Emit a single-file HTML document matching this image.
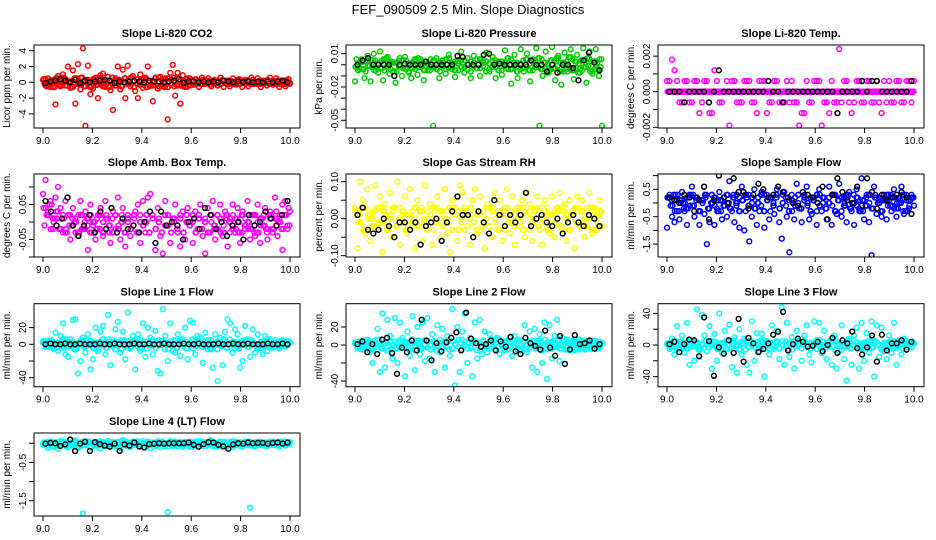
<!DOCTYPE html>
<html><head><meta charset="utf-8">
<style>
html,body{margin:0;padding:0;background:#fff;}
svg{display:block;font-family:"Liberation Sans",Arial,sans-serif;}
</style></head>
<body>
<svg id="chart" width="936" height="540" viewBox="0 0 936 540" xmlns="http://www.w3.org/2000/svg">
<rect width="936" height="540" fill="#fff"/>
<text x="468" y="14" font-size="13" text-anchor="middle">FEF_090509  2.5 Min. Slope Diagnostics</text>
</svg>
<script>
// ---- data (y values at evenly spaced x between 9.0 and 10.0) ----
const xTicks = [9.0, 9.2, 9.4, 9.6, 9.8, 10.0];
const xTickLabels = ["9.0", "9.2", "9.4", "9.6", "9.8", "10.0"];

const co2Vals = [0.3,-0.4,0.5,-0.6,0.2,-2.8,0.8,-0.5,1.0,0.4,2.0,-0.7,1.5,-2.7,2.3,-0.9,4.3,-5.5,2.1,-1.5,-0.8,0.6,-2.0,0.9,1.1,-0.6,0.7,-1.0,-3.5,0.5,2.0,-0.9,1.6,-2.0,2.1,-0.5,0.8,-1.1,-2.0,1.0,-0.7,0.6,2.0,-0.4,-2.4,0.5,-0.8,0.7,-0.5,0.4,-4.7,1.2,2.2,-1.7,1.2,-2.7,0.9,-0.6,0.5,-0.4,0.3,-0.3,0.2,-0.2,0.3,-0.2,0.2,-0.3,0.2,-0.2,0.2,-0.2,0.3,-0.1,0.2,-0.2,0.1,-0.2,0.3,-0.2,0.2,-0.1,0.2,-0.2,0.3,-0.2,0.1,-0.2,0.2,-0.1,0.3,-0.2,0.2,-0.1,0.2,-0.2,0.1,-0.2,0.2,-0.1];
const co2Band = [0.4,-0.5,0.2,-0.6,0.5,-0.3,0.6,-0.4,0.1,-0.6,0.5,-0.2,0.6,-0.5,0.3,-0.6,0.4,-0.3,0.5,-0.5,0.2,-0.6,0.6,-0.4,0.3,-0.5,0.5,-0.2,0.6,-0.6,0.4,-0.3,0.5,-0.6,0.2,-0.4,0.6,-0.5,0.3,-0.6,0.5,-0.3,0.6,-0.4,0.2,-0.5,0.4,-0.3,0.2,-0.2,0.1,-0.2,0.2,-0.1,0.2,-0.2,0.1,-0.2,0.2,-0.1,0.2,-0.2,0.1,-0.2,0.2,-0.1,0.2,-0.2,0.1,-0.2,0.2,-0.1,0.2,-0.2,0.1,-0.2,0.2,-0.1,0.2,-0.2];
const co2Black = [-0.1,0.1,0.2,0.4,0.2,0.0,0.3,-0.1,0.2,0.0,0.1,0.2,0.3,0.2,-0.1,0.1,0.0,0.1,0.2,0.1,0.0,0.2,0.1,0.1,0.0,0.1,0.2,0.4,-0.1,0.1,0.1,0.0,0.1,0.0,0.1,0.0,0.2,0.1,0.0,0.1,0.0,0.1,0.0,0.1,0.0,0.1,0.0,0.1,0.2,0.0];

const presVals = [-0.015,-0.005,0.005,-0.012,0.008,-0.015,0.010,-0.003,0.012,-0.014,0.006,-0.008,0.002,-0.016,0.004,-0.010,0.007,-0.006,-0.012,0.003,-0.009,0.005,-0.014,0.001,-0.005,-0.055,0.006,-0.012,0.004,-0.008,0.009,-0.004,-0.011,0.003,0.012,-0.007,0.006,-0.012,0.008,-0.003,-0.010,0.004,0.011,-0.006,0.007,-0.012,0.003,-0.009,0.013,-0.004,-0.017,0.009,-0.012,0.014,-0.006,0.010,-0.015,0.005,0.015,-0.055,-0.010,0.012,-0.005,0.016,-0.014,0.008,-0.018,0.011,-0.006,0.014,-0.013,0.009,-0.004,0.015,-0.016,0.012,-0.008,0.014,-0.010,-0.055];
const presBand = [-0.002,0.002,-0.004,0.003,-0.001,0.004,-0.005,0.001,-0.003,0.005,-0.002,0.003,-0.006,0.002,-0.001,0.004,-0.004,0.001,-0.003,0.005,-0.002,0.003,-0.005,0.001,-0.002,0.004,-0.004,0.002,-0.001,0.005,-0.003,0.002,-0.005,0.001,-0.002,0.004,-0.004,0.003,-0.001,0.005,-0.003,0.002,-0.006,0.001,-0.002,0.004,-0.005,0.003,-0.001,0.006,-0.004,0.002,-0.006,0.001,-0.003,0.005,-0.005,0.003,-0.002,0.006,-0.004,0.002,-0.007,0.004,-0.003,0.006,-0.006,0.002,-0.004,0.007,-0.005,0.003,-0.007,0.004,-0.002,0.006,-0.006,0.003,-0.004,0.005];
const presBlack = [0.000,0.004,0.006,0.000,0.000,0.000,0.000,-0.010,0.000,0.001,0.000,0.000,0.000,0.003,0.000,0.000,0.000,0.000,0.000,0.008,0.007,0.000,0.000,0.000,0.009,0.010,0.000,0.001,0.000,0.000,0.000,0.000,0.000,0.004,0.000,0.000,-0.006,0.000,-0.007,0.000,0.000,-0.003,-0.014,0.004,0.011,0.002,-0.005];

const tempVals = [.0006,.0006,.0018,.0012,.0006,-.0006,-.0006,.0006,.0006,-.0006,-.0006,.0006,.0006,-.0012,-.0006,.0006,.0006,-.0012,-.0012,.0012,.0006,-.0006,-.0006,0,.0006,-.0019,.0006,.0006,-.0006,-.0006,-.0006,.0006,.0006,.0006,-.0006,-.0006,-.0012,.0006,.0006,.0006,-.0012,-.0006,-.0006,.0006,.0006,-.0006,-.0006,-.0006,.0006,-.0006,.0006,-.0006,-.0006,-.0019,-.0012,-.0012,.0006,-.0006,-.0006,.0006,.0006,.0006,-.0019,-.0006,-.0006,-.0012,.0006,-.0006,-.0006,.0024,-.0006,.0006,.0006,-.0006,-.0012,-.0006,.0006,.0006,-.0006,-.0006,.0006,.0006,-.0006,-.0006,.0006,-.0006,-.0012,.0006,-.0006,.0006,-.0006,-.0006,.0006,.0006,-.0006,-.0006,.0006,.0006,-.0006,.0006];
const tempBand = [0,0,0,0,0,0,0,0,0,0,0,0,0,0,0,0,0,0,0,0,0,0,0,0,0,0,0,0,0,0,0,0,0,0,0,0,0,0,0,0,0,0,0,0,0,0,0,0,0,0,0,0,0,0,0,0,0,0,0,0,0,0,0,0,0,0,0,0,0,0,0,0,0,0,0,0,0,0,0,0];
const tempBlack = [0,0,0,-.0006,0,0,0,0,-.0006,0,.0012,0,0,0,0,0,0,0,0,0,.0006,0,0,-.0006,0,0,0,0,0,0,0,0,0,0,-.0012,0,0,0,0,.0006,0,.0006,.0006,0,0,0,0,0,0,.0006];

const ambVals = [0.08,0.12,0.03,0.06,-0.02,0.07,0.10,0.04,-0.03,0.06,0.02,-0.05,0.04,0.01,-0.04,0.06,-0.02,0.03,-0.08,0.05,-0.01,-0.05,0.02,0.04,-0.04,0.06,0.01,-0.06,0.03,-0.02,0.07,-0.05,0.04,-0.07,0.02,-0.04,-0.12,0.03,0.05,-0.06,0.06,-0.03,0.07,0.08,-0.11,-0.08,0.04,-0.04,-0.09,0.06,0.02,-0.06,0.01,0.05,-0.03,-0.07,0.03,-0.05,0.04,0.00,-0.06,0.03,-0.02,0.05,-0.04,-0.09,0.04,-0.03,0.06,-0.05,0.02,0.05,-0.04,0.03,-0.07,0.01,0.05,-0.03,0.04,-0.06,0.03,-0.02,0.06,-0.05,0.02,-0.04,0.05,-0.06,0.01,0.04,-0.05,0.03,-0.03,0.07,-0.04,0.02,-0.08,0.06,-0.02,0.03];
const ambBand = [0.04,0.02,0.05,0.01,0.03,-0.02,0.01,-0.03,0.02,-0.01,0.00,-0.03,0.02,-0.02,0.01,-0.03,0.00,-0.02,0.02,-0.03,0.01,-0.01,-0.03,0.02,-0.02,0.00,-0.03,0.01,-0.02,0.02,-0.03,0.00,-0.01,0.02,-0.03,0.01,-0.02,0.00,-0.03,0.02,-0.01,-0.03,0.01,-0.02,0.02,-0.03,0.00,-0.01,0.02,-0.03,0.01,-0.02,0.00,-0.03,0.02,-0.01,-0.02,0.01,-0.03,0.02,0.00,-0.02,0.01,-0.03,0.02,-0.01,0.00,-0.02,0.02,-0.03,0.01,-0.01,-0.02,0.02,-0.02,0.01,0.00,-0.02,0.02,-0.01];
const ambBlack = [0.06,0.03,-0.01,0.01,0.07,-0.01,-0.04,-0.01,0.02,-0.03,0.03,-0.02,0.04,-0.03,0.01,-0.02,-0.01,-0.03,0.00,0.03,-0.06,0.03,-0.01,0.00,-0.01,-0.05,0.00,0.01,-0.02,0.04,0.02,-0.02,0.00,-0.04,-0.01,0.00,-0.05,0.02,-0.01,0.00,0.03,0.01,-0.01,0.02,0.06];

const rhVals = [0.03,-0.08,0.10,0.05,-0.04,0.08,-0.06,0.02,0.09,-0.03,0.06,-0.09,0.04,-0.02,0.07,-0.05,0.03,0.10,-0.07,0.01,0.06,-0.04,0.08,-0.02,-0.08,0.05,0.02,-0.06,0.09,-0.03,0.04,-0.07,0.13,0.06,-0.05,0.02,0.08,-0.04,-0.09,0.05,0.03,-0.06,0.09,0.07,-0.03,0.01,-0.07,0.05,0.08,-0.04,0.06,-0.02,-0.08,0.04,0.03,-0.05,0.07,-0.03,0.05,-0.06,0.02,0.08,-0.04,0.06,-0.07,0.03,-0.02,0.05,-0.05,0.07,0.04,-0.06,0.02,0.06,-0.03,-0.07,0.05,0.03,-0.04,0.06,-0.05,0.02,0.07,-0.03,0.04,-0.06,0.05,0.02,-0.08,0.06,-0.02,0.05,-0.05,0.03,0.07,-0.04,0.02,-0.03,0.05,-0.02];
const rhBand = [0.02,-0.01,0.03,-0.03,0.01,0.00,-0.02,0.03,-0.01,0.02,-0.03,0.01,0.03,-0.02,0.00,0.02,-0.03,0.01,-0.01,0.03,-0.02,0.02,0.00,-0.03,0.01,0.03,-0.01,0.02,-0.02,0.00,0.03,-0.03,0.01,0.02,-0.01,0.03,-0.02,0.00,0.02,-0.03,0.01,-0.01,0.03,-0.02,0.02,0.00,-0.03,0.01,0.03,-0.01,0.02,-0.02,0.00,0.03,-0.03,0.01,0.02,-0.01,0.03,-0.02,0.00,0.02,-0.03,0.01,-0.01,0.03,-0.02,0.02,0.00,-0.03,0.01,0.03,-0.01,0.02,-0.02,0.00,0.03,-0.03,0.01,0.02];
const rhBlack = [0.01,0.03,-0.03,-0.04,-0.03,0.00,-0.02,-0.05,-0.01,-0.01,-0.03,-0.01,-0.07,-0.02,-0.01,0.00,-0.06,-0.01,0.02,0.06,0.01,0.01,-0.05,0.02,-0.01,-0.04,0.05,0.01,-0.02,0.01,-0.01,0.01,0.07,-0.02,0.00,0.01,-0.01,-0.02,0.00,-0.04,-0.01,0.01,-0.01,-0.02,0.01,0.00,-0.02];

const sampVals = [-0.9,0.3,-0.5,-0.7,0.1,-0.6,0.4,-0.3,-0.8,0.2,0.6,-0.5,0.2,-0.8,0.1,-0.4,-1.5,-0.7,0.3,-0.8,-0.2,0.4,-0.6,0.2,-0.5,0.8,-0.3,-0.7,0.3,-0.9,0.6,-1.0,0.2,-1.4,-0.5,0.5,-0.8,-0.3,0.4,-0.9,0.3,-0.6,0.2,-0.4,0.5,-0.7,-1.3,0.4,-0.5,-1.8,0.3,-0.6,0.7,-0.2,-0.7,0.1,0.6,-0.6,-0.4,0.2,-0.8,0.5,-0.3,0.2,-0.6,0.6,-0.8,0.3,-0.4,0.7,-0.5,0.2,-0.7,0.4,-0.3,-0.8,0.5,-0.2,0.9,-0.6,0.3,-0.7,-1.9,0.6,-0.4,0.2,-0.5,0.3,-0.6,0.1,-0.3,0.5,-0.5,0.2,0.6,-0.4,0.1,-0.2,0.3,-0.1];
const sampBand = [0.2,-0.1,0.3,-0.3,0.1,0.0,-0.2,0.3,-0.1,0.2,-0.3,0.1,0.3,-0.2,0.0,0.2,-0.3,0.1,-0.1,0.3,-0.2,0.2,0.0,-0.3,0.1,0.3,-0.1,0.2,-0.2,0.0,0.3,-0.3,0.1,0.2,-0.1,0.3,-0.2,0.0,0.2,-0.3,0.1,-0.1,0.3,-0.2,0.2,0.0,-0.3,0.1,0.3,-0.1,0.2,-0.2,0.0,0.3,-0.3,0.1,0.2,-0.1,0.3,-0.2,0.0,0.2,-0.3,0.1,-0.1,0.3,-0.2,0.2,0.0,-0.3,0.1,0.3,-0.1,0.2,-0.2,0.0,0.3,-0.3,0.1,0.2];
const sampBlack = [0.2,0.1,0.0,0.3,0.2,-0.3,0.1,0.6,-0.6,0.1,1.0,0.2,0.0,0.9,0.4,0.4,-0.2,0.3,0.7,0.5,0.2,0.3,0.6,0.4,0.2,0.0,-0.1,0.4,0.3,0.2,0.0,0.6,-0.6,0.3,0.9,0.4,0.1,0.0,0.6,-0.1,0.9,0.4,-0.2,0.3,0.1,0.2,0.3,0.4,0.2,-0.4];

const l1Vals = [2,-3,4,1,-5,14,-8,10,25,-12,-15,6,29,30,-35,-20,8,-10,12,-30,-18,20,-8,15,22,-12,35,-25,5,18,27,-10,15,-18,38,-5,10,-30,12,-8,25,-15,20,8,-12,16,-32,-35,42,10,-20,25,-8,-10,12,-14,6,20,-18,28,26,-12,10,8,-22,14,-6,-5,-28,12,-44,8,-25,15,30,25,-10,18,12,-28,-20,22,6,-15,18,-10,12,-5,-12,10,-8,6,-4,5,-3,4,-2,3,-1,2];
const l1Band = [4,-3,5,-5,2,0,-4,6,-2,3,-6,1,5,-3,0,4,-5,2,-1,6,-4,3,0,-6,2,5,-2,4,-3,0,6,-5,1,3,-2,5,-4,0,4,-6,2,-1,5,-4,3,0,-5,2,6,-2,4,-3,0,5,-6,1,3,-2,6,-4,0,3,-5,2,-1,5,-3,4,0,-4,2,3,-2,4,-3,1,2,-2,1,2];
const l1Black = [0,1,0,0,1,0,0,1,0,0,0,1,0,0,1,0,0,0,1,0,0,1,0,0,1,0,0,0,1,0,0,1,0,0,0,1,0,0,1,0,0,1,0,0,0,1,0,0,1,0];

const l2Vals = [2,-3,4,-5,3,6,-8,-20,5,18,-30,35,-25,28,10,-15,30,-20,25,8,-35,15,-12,32,-28,20,-10,25,-18,30,-15,12,-30,22,-8,18,-25,10,-12,40,-45,20,-30,15,35,-20,8,-35,25,-15,28,-10,15,-8,12,6,-5,8,-10,4,-6,5,8,-12,10,-5,6,-3,22,-8,15,-25,18,-30,12,-20,25,-38,22,-15,10,28,-18,8,-5,6,-4,5,-6,3,-5,4,-3,5,-4,3,-2,4,-3,2];
const l2Band = [3,-4,5,-2,4,-5,1,6,-3,2,-6,4,0,-4,5,-2,3,-5,6,-1,2,-4,5,-3,0,4,-6,2,3,-2,5,-4,1,6,-5,0,3,-3,4,-6,2,5,-1,-4,3,6,-2,0,4,-5,2,-3,6,-1,3,-5,4,0,-2,5,-6,1,3,-4,5,-2,0,4,-5,2,3,-4,6,-3,1,2,-4,3,-2,1];
const l2Black = [1,4,-8,1,-10,6,8,-9,-32,-3,-8,5,-6,28,5,-17,2,-7,3,8,14,-6,36,7,2,-2,1,5,-6,4,-2,9,-7,-10,8,2,-1,-5,16,-3,-12,10,-21,-5,11,1,2,5,-4,1];

const l3Vals = [1,-5,8,-12,24,-3,12,-10,28,-25,6,-20,45,-15,38,12,-8,24,-30,14,-20,40,-10,18,-5,26,-28,10,-35,20,-12,8,-25,-35,30,-20,15,-8,14,-40,5,-12,25,-5,18,-18,48,-25,28,-15,10,-30,18,5,-20,12,25,-12,-22,30,-5,28,-10,18,-18,5,-25,12,-30,-8,25,-18,-45,8,-25,12,22,-30,28,-20,15,-10,30,-40,25,-15,22,-8,-18,12,-10,28,-25,6,-12,8,-5,4,-3,2];
const l3Band = [2,-3,5,-5,4,0,-4,6,-2,3,-6,1,5,-3,0,4,-5,2,-1,6,-4,3,0,-6,2,5,-2,4,-3,0,6,-5,1,3,-2,5,-4,0,4,-6,2,-1,5,-4,3,0,-5,2,6,-2,4,-3,0,5,-6,1,3,-2,6,-4,0,3,-5,2,-1,5,-3,4,0,-4,2,3,-2,4,-3,1,2,-2,1,2];
const l3Black = [1,4,-9,1,7,6,-14,35,5,-39,-3,-11,6,-10,33,-21,9,2,-9,-5,2,13,17,42,-7,1,8,4,-2,-1,4,-8,0,9,-10,6,2,17,-4,-12,-3,12,-21,13,-7,2,2,6,-6,4];

const l4Vals = [-0.05,0.02,-0.12,0.05,-0.08,0.03,-0.15,0.06,-0.02,0.04,-0.10,0.02,-0.06,0.07,-0.12,0.03,-1.83,-0.04,0.05,-0.11,0.02,-0.07,0.04,-0.14,0.03,-0.02,0.06,-0.09,0.02,-0.05,0.04,-0.12,0.08,-0.03,0.02,-0.10,0.05,-0.04,0.03,-0.08,0.06,-0.02,0.04,-0.13,0.02,-0.06,0.05,-0.10,0.03,-0.04,-1.80,0.06,-0.07,0.02,-0.05,0.04,-0.09,0.03,-0.02,0.05,-0.08,0.02,-0.04,0.06,-0.07,0.03,-0.05,0.08,-0.06,0.02,-0.04,0.05,-0.08,0.03,-0.03,0.04,-0.10,0.02,-0.05,0.03,-0.07,0.04,-0.02,-1.68,-0.06,0.03,-0.04,0.05,-0.03,0.02,-0.05,0.04,-0.02,0.03,-0.04,0.05,-0.03,0.04,-0.02,0.03];
const l4Band = [0.02,-0.06,0.04,-0.09,0.01,-0.03,0.05,-0.07,0.00,-0.04,0.03,-0.08,0.02,-0.05,0.04,-0.09,0.01,-0.03,0.05,-0.06,0.00,-0.04,0.03,-0.08,0.02,-0.05,0.04,-0.07,0.01,-0.03,0.05,-0.09,0.00,-0.04,0.03,-0.06,0.02,-0.05,0.04,-0.08,0.01,-0.03,0.05,-0.07,0.00,-0.04,0.03,-0.09,0.02,-0.05,0.04,-0.06,0.01,-0.03,0.05,-0.08,0.00,-0.04,0.03,-0.07,0.02,-0.05,0.04,-0.06,0.01,-0.03,0.05,-0.05,0.00,-0.04,0.03,-0.06,0.02,-0.04,0.04,-0.05,0.01,-0.03,0.04,-0.02];
const l4Black = [-0.01,0.01,0.00,-0.07,-0.03,0.10,-0.20,-0.01,0.04,-0.20,0.03,-0.02,-0.06,-0.09,-0.01,-0.20,-0.03,-0.06,0.02,-0.08,-0.11,-0.02,-0.01,0.00,-0.01,0.00,0.00,0.00,0.00,0.02,-0.04,-0.09,-0.02,0.03,0.02,-0.04,-0.08,-0.14,-0.03,0.00,-0.01,0.02,0.00,0.01,0.01,-0.01,0.01,0.02,-0.01,0.02];

// ---- panel layout ----
const panels = [
 {name:"co2", title:"Slope Li-820 CO2", ylab:"Licor ppm per min.", r:0, c:0, y0:82.3, ppu:7.9, ticks:[-4,-2,0,2,4], labels:["-4","-2","0","2","4"], color:"#ff0000", vals:co2Vals, band:co2Band, black:co2Black},
 {name:"pressure", title:"Slope Li-820 Pressure", ylab:"kPa per min.", r:0, c:1, y0:64.8, ppu:1110, ticks:[0.01,0,-0.01,-0.02,-0.03,-0.04,-0.05], labels:["0.01","","","-0.02","","","-0.05"], color:"#00cc00", vals:presVals, band:presBand, black:presBlack},
 {name:"temp", title:"Slope Li-820 Temp.", ylab:"degrees C per min.", r:0, c:2, y0:91.7, ppu:17800, ticks:[0.002,0.001,0,-0.001,-0.002], labels:["0.002","","0.000","","-0.002"], color:"#ff00ff", vals:tempVals, band:tempBand, black:tempBlack},
 {name:"amb-box-temp", title:"Slope Amb. Box Temp.", ylab:"degrees C per min.", r:1, c:0, y0:222, ppu:350, ticks:[0.1,0.05,0,-0.05,-0.1], labels:["","0.05","","-0.05",""], color:"#ff00ff", vals:ambVals, band:ambBand, black:ambBlack},
 {name:"gas-stream-rh", title:"Slope Gas Stream RH", ylab:"percent per min.", r:1, c:1, y0:218.7, ppu:370, ticks:[0.1,0.05,0,-0.05,-0.1], labels:["0.10","","0.00","","-0.10"], color:"#ffff00", vals:rhVals, band:rhBand, black:rhBlack},
 {name:"sample-flow", title:"Slope Sample Flow", ylab:"ml/min per min.", r:1, c:2, y0:203, ppu:27.4, ticks:[1,0.5,0,-0.5,-1,-1.5], labels:["","0.5","","-0.5","","-1.5"], color:"#0000ff", vals:sampVals, band:sampBand, black:sampBlack},
 {name:"line1-flow", title:"Slope Line 1 Flow", ylab:"ml/min per min.", r:2, c:0, y0:344.3, ppu:0.835, ticks:[20,0,-20,-40], labels:["20","0","","-40"], color:"#00ffff", vals:l1Vals, band:l1Band, black:l1Black},
 {name:"line2-flow", title:"Slope Line 2 Flow", ylab:"ml/min per min.", r:2, c:1, y0:345, ppu:0.9, ticks:[20,0,-20,-40], labels:["20","0","","-40"], color:"#00ffff", vals:l2Vals, band:l2Band, black:l2Black},
 {name:"line3-flow", title:"Slope Line 3 Flow", ylab:"ml/min per min.", r:2, c:2, y0:345, ppu:0.79, ticks:[40,20,0,-20,-40], labels:["40","","0","","-40"], color:"#00ffff", vals:l3Vals, band:l3Band, black:l3Black},
 {name:"line4-flow", title:"Slope Line 4 (LT) Flow", ylab:"ml/min per min.", r:3, c:0, y0:443.3, ppu:38.3, ticks:[0,-0.5,-1,-1.5], labels:["","-0.5","","-1.5"], color:"#00ffff", vals:l4Vals, band:l4Band, black:l4Black}
];
const rowTops = [45, 174, 303.7, 433];

const NS = "http://www.w3.org/2000/svg";
const svg = document.getElementById("chart");
function mk(tag, attrs, parent){
  const e = document.createElementNS(NS, tag);
  for (const k in attrs) e.setAttribute(k, attrs[k]);
  (parent||svg).appendChild(e);
  return e;
}

panels.forEach((p, idx) => {
  const top = rowTops[p.r], bottom = top + 83;
  const left = 34 + 312*p.c, right = 300 + 312*p.c;
  const xScale = v => 43 + 312*p.c + (v - 9) * 247;
  const yScale = v => p.y0 - v * p.ppu;
  const g = mk("g", {});
  
  

  const clip = mk("clipPath", {id:"clip"+idx}, g);
  mk("rect", {x:left, y:top, width:right-left, height:bottom-top}, clip);

  const t = mk("text", {x:(left+right)/2, y:top-8, "font-size":11, "font-weight":"bold", "text-anchor":"middle"}, g);
  t.textContent = p.title;
  
  

  const yl = mk("text", {x:0, y:0, "font-size":10, "text-anchor":"middle", transform:`translate(${10+312*p.c},${(top+bottom)/2}) rotate(-90)`}, g);
  yl.textContent = p.ylab;
  
  

  // points
  const pts = mk("g", {"clip-path":`url(#clip${idx})`, fill:"none", "stroke-width":1.5}, g);
  
  
  const drawSeries = (arr, color, off, nm) => {
    const sg = mk("g", {stroke:color}, pts);
    
    
    arr.forEach((v, i) => {
      const x = 9 + off + (1 - Math.abs(off)*2) * i / (arr.length - 1);
      const c = mk("circle", {cx:xScale(x).toFixed(1), cy:yScale(v).toFixed(1), r:2.4}, sg);
      
      
    });
  };
  drawSeries(p.band, p.color, 0.002, "band-series");
  drawSeries(p.band.slice().reverse(), p.color, 0.006, "band-series-b");
  drawSeries(p.band, p.color, 0.010, "band-series-c");
  drawSeries(p.vals, p.color, 0, "series");
  drawSeries(p.black, "#000", 0.01, "reference-series");

  // box
  const box = mk("rect", {x:left, y:top, width:right-left, height:bottom-top, fill:"none", stroke:"#000", "stroke-width":1}, g);
  
  

  // x axis
  const xa = mk("g", {stroke:"#000", "stroke-width":1}, g);
  
  
  xTicks.forEach((v, i) => {
    const x = xScale(v);
    mk("line", {x1:x, x2:x, y1:bottom, y2:bottom+5}, xa);
    const tl = mk("text", {x:x, y:bottom+16, "font-size":10, "text-anchor":"middle", stroke:"none", fill:"#000"}, xa);
    tl.textContent = xTickLabels[i];
    
    
  });

  // y axis
  const ya = mk("g", {stroke:"#000", "stroke-width":1}, g);
  
  
  mk("line", {x1:left, x2:left, y1:yScale(p.ticks[0]), y2:yScale(p.ticks[p.ticks.length-1])}, ya);
  p.ticks.forEach((v, i) => {
    const y = yScale(v);
    mk("line", {x1:left-5, x2:left, y1:y, y2:y}, ya);
    if (p.labels[i]) {
      const tl = mk("text", {x:0, y:0, "font-size":10, "text-anchor":"middle", stroke:"none", fill:"#000", transform:`translate(${left-8},${y}) rotate(-90)`}, ya);
      tl.textContent = p.labels[i];
      
      
    }
  });
});
</script>
</body></html>
